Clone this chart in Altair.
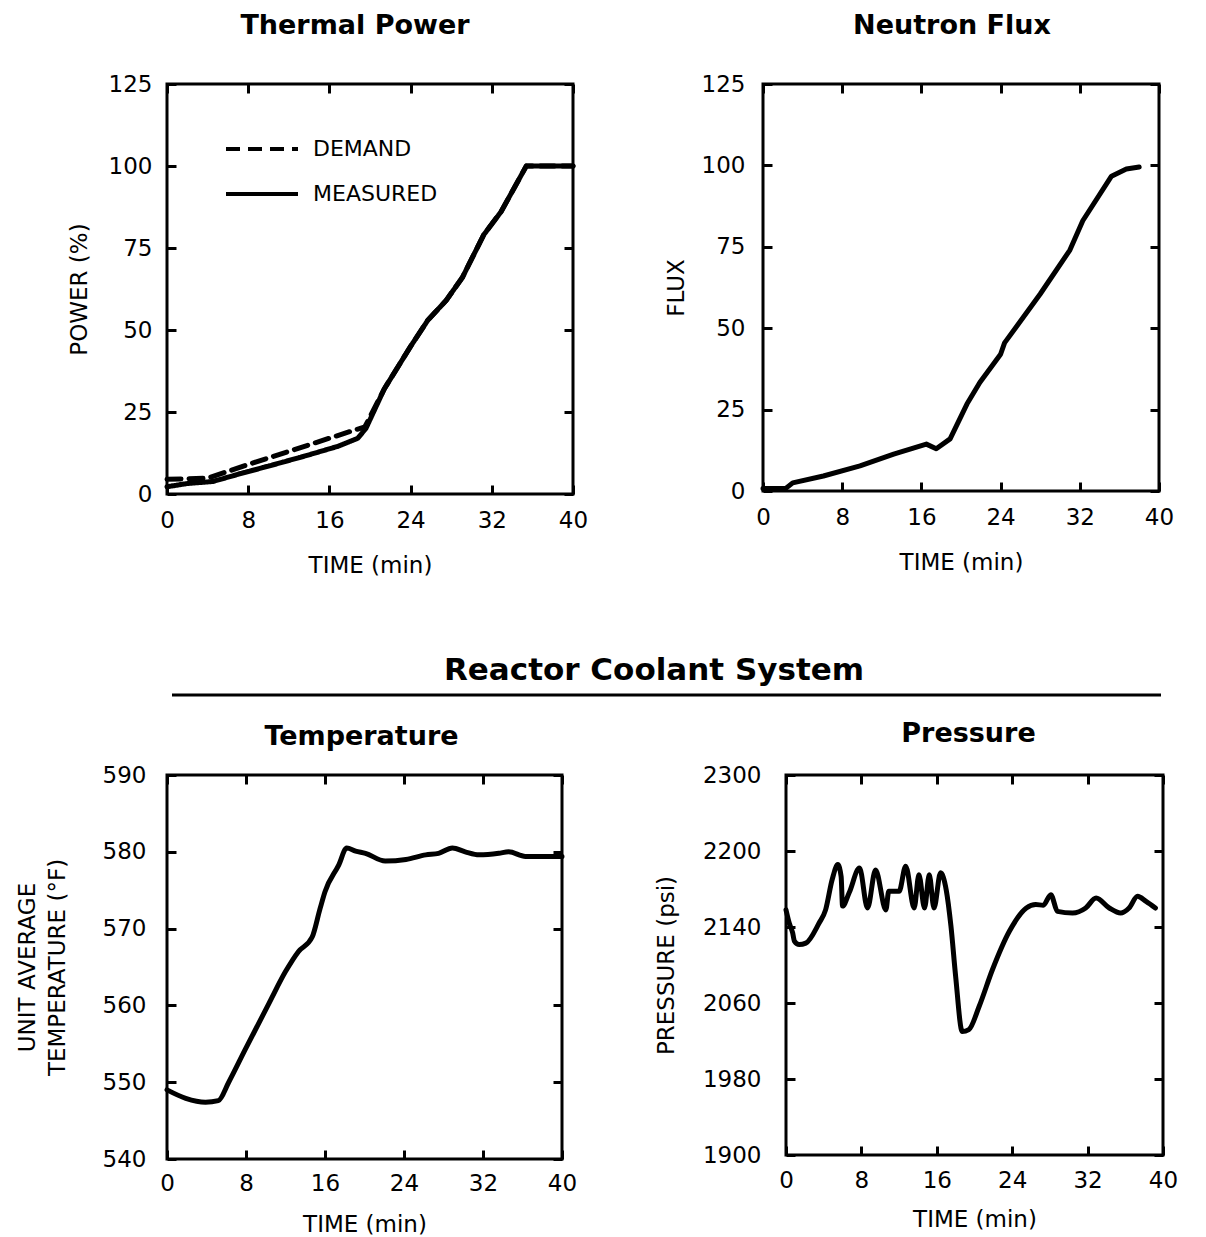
import altair as alt
import pandas as pd

# ---------------- data ----------------
TIME_TICKS = [0, 8, 16, 24, 32, 40]

power_series = ["DEMAND", "MEASURED"]
power_dem_t = [0, 4, 8, 12, 16, 19.5, 21.4, 24, 25.7, 27.5, 29.1, 31.2, 32.9, 35.4, 40]
power_dem_v = [4.5, 4.8, 9, 13, 17, 20.5, 32, 45, 53, 59, 66, 79, 86, 100, 100]
power_meas_t = [0, 2, 4.5, 7, 10, 13.5, 16.8, 18, 18.8, 19.6, 21.4, 24, 25.7, 27.5, 29.1, 31.2, 32.9, 35.4, 40]
power_meas_v = [2.2, 3.2, 3.8, 6, 8.5, 11.5, 14.5, 16, 17, 20, 32, 45, 53, 59, 66, 79, 86, 100, 100]

flux_t = [0, 2.3, 3, 6.1, 9.8, 13.2, 16.5, 17.5, 18.9, 20.6, 21.9, 24, 24.4, 28, 31, 32.3, 35.2, 36.7, 38]
flux_v = [0.8, 0.8, 2.5, 4.6, 7.7, 11.3, 14.4, 13, 16, 26.7, 33.3, 42, 45.5, 60.5, 74, 83, 96.7, 98.9, 99.5]

temp_t = [0, 1.9, 3.9, 5.2, 6.25, 7.9, 10.3, 12.0, 13.3, 14.7, 15.5, 16.0, 17.4, 18.2, 19.1, 20.1,
          22.1, 24.2, 26.2, 27.5, 28.9, 30.2, 31.6, 33.6, 34.6, 36.3, 38.0, 40]
temp_v = [549.0, 547.9, 547.4, 547.6, 550.0, 554.2, 560.2, 564.4, 567.0, 568.9, 572.6, 574.8, 578.3, 580.5,
          580.1, 579.8, 578.8, 579.0, 579.6, 579.8, 580.5, 580.0, 579.6, 579.8, 580.0, 579.4, 579.4, 579.4]

press_t = [0, 0.35, 0.7, 0.9, 1.4, 2.1, 3.5, 4.2, 4.9, 5.5, 5.85, 6.0, 6.7, 7.8, 8.65, 9.5, 10.6, 10.9,
           12.0, 12.7, 13.6, 14.1, 14.7, 15.2, 15.7, 16.4, 17.0, 17.5, 18.0, 18.7, 19.4, 20.5, 21.9,
           23.7, 25.5, 26.5, 27.3, 28.1, 28.8, 30.4, 31.8, 32.9, 34.3, 35.5, 36.4, 37.3, 38.2, 39.2]
press_v = [2158, 2144, 2134, 2125, 2121.5, 2123, 2144, 2158, 2190, 2205.7, 2193, 2162, 2176, 2202, 2160,
           2200, 2158, 2177.6, 2177.6, 2204, 2160, 2195, 2160, 2195, 2160, 2197, 2179, 2141, 2088,
           2030, 2032, 2056.6, 2095, 2135.5, 2160, 2163.6, 2163, 2174, 2156.5, 2154.7, 2160, 2170.5,
           2160, 2154.7, 2160, 2172.3, 2167, 2160]

FONT = "DejaVu Sans"
T = 9  # inward tick length


def axis_common(**kw):
    base = dict(domain=False, grid=False, tickColor="black", tickWidth=3, tickSize=T, offset=-T,
                labelFont=FONT, labelFontSize=23, labelColor="black", labelFlush=False,
                labelOverlap=False, titleFont=FONT, titleFontSize=23, titleFontWeight="normal",
                titleColor="black", format="d")
    base.update(kw)
    return alt.Axis(**base)


def panel(df, title, ytitle, ydomain, yvals, width, height, ylab_pad, ytitle_pad,
          xlab_pad, xtitle_pad, title_y, title_dx, interp="linear", dash=None, ylabel_expr=None,
          extra=()):
    xs = alt.Scale(domain=[0, 40], nice=False, zero=False)
    ys = alt.Scale(domain=ydomain, nice=False, zero=False)
    yk = dict(values=yvals, title=ytitle, labelPadding=ylab_pad, titlePadding=ytitle_pad,
              titleLineHeight=30)
    if ylabel_expr:
        yk["labelExpr"] = ylabel_expr
    enc = dict(
        x=alt.X("t:Q", scale=xs, axis=axis_common(values=TIME_TICKS, title="TIME (min)",
                                                   labelPadding=xlab_pad, titlePadding=xtitle_pad)),
        y=alt.Y("v:Q", scale=ys, axis=axis_common(**yk)),
    )
    if dash is not None:
        enc["strokeDash"] = dash
    line = alt.Chart(df).mark_line(color="black", strokeWidth=5, strokeCap="round",
                                   strokeJoin="round", interpolate=interp).encode(**enc)
    ghost = alt.Chart(df).mark_line(opacity=0).encode(
        x=alt.X("t:Q", scale=xs, axis=axis_common(values=TIME_TICKS, orient="top", labels=False, title=None)),
        y=alt.Y("v:Q", scale=ys, axis=axis_common(values=yvals, orient="right", labels=False, title=None)),
    )
    ttl = alt.Chart(pd.DataFrame({"title": [title]})).mark_text(
        font=FONT, fontSize=27, fontWeight="bold", color="black", align="center",
        baseline="alphabetic").encode(text="title:N", x=alt.value(width / 2 + title_dx),
                                      y=alt.value(title_y))
    return alt.layer(line, ghost, ttl, *extra).resolve_axis(x="independent", y="independent").properties(
        width=width, height=height)


thermal_df = pd.concat([
    pd.DataFrame({"t": power_dem_t, "v": power_dem_v, "series": power_series[0]}),
    pd.DataFrame({"t": power_meas_t, "v": power_meas_v, "series": power_series[1]}),
])
dash = alt.StrokeDash(
    "series:N",
    scale=alt.Scale(domain=power_series, range=[[14, 8], [1, 0]]),
    legend=None,
)

# hand-drawn legend entries (inside the Thermal Power panel)
legend_items = []
for name, dsh, ly in [(power_series[0], [14, 8], 65), (power_series[1], [1, 0], 110)]:
    ldf = pd.DataFrame({"series": [name]})
    legend_items.append(
        alt.Chart(ldf).mark_rule(color="black", strokeWidth=4, strokeDash=dsh).encode(
            x=alt.value(59), x2=alt.value(131), y=alt.value(ly)))
    legend_items.append(
        alt.Chart(ldf).mark_text(font=FONT, fontSize=22, color="black", align="left",
                                 baseline="middle").encode(
            text="series:N", x=alt.value(146), y=alt.value(ly)))

thermal = panel(thermal_df, "Thermal Power", "POWER (%)", [0, 125], [0, 25, 50, 75, 100, 125],
                406, 410, 15, 17, 15, 22, -50, -15, dash=dash, extra=legend_items)
flux = panel(pd.DataFrame({"t": flux_t, "v": flux_v}), "Neutron Flux", "FLUX", [0, 125],
             [0, 25, 50, 75, 100, 125], 396, 407, 18, 13, 15, 22, -50, -9)
temp = panel(pd.DataFrame({"t": temp_t, "v": temp_v}), "Temperature",
             ["UNIT AVERAGE", "TEMPERATURE (°F)"], [540, 590], [540, 550, 560, 570, 580, 590],
             395, 384, 21, 33, 13, 18, -30, -3, interp="monotone")
press = panel(pd.DataFrame({"t": press_t, "v": press_v}), "Pressure", "PRESSURE (psi)",
              [1900, 2300], [1900, 1980, 2060, 2140, 2220, 2300], 377, 380, 25, 24, 14, 16, -33, -6,
              interp="monotone", ylabel_expr="datum.value == 2220 ? '2200' : datum.label")

hdr_df = pd.DataFrame({"label": ["Reactor Coolant System"]})
hdr_text = alt.Chart(hdr_df).mark_text(font=FONT, fontSize=31, fontWeight="bold", color="black",
                                       align="center", baseline="middle").encode(
    text="label:N", x=alt.value(487), y=alt.value(90))
hdr_rule = alt.Chart(hdr_df).mark_rule(color="black", strokeWidth=3).encode(
    x=alt.value(5), x2=alt.value(994), y=alt.value(114))
header = alt.layer(hdr_text, hdr_rule).properties(
    width=1000, height=135, view=alt.ViewBackground(stroke="transparent"))

top = alt.hconcat(thermal, flux, spacing=73)
bottom = alt.hconcat(temp, press, spacing=74)

chart = alt.vconcat(top, header, bottom, spacing=0).properties(
    padding={"left": 6, "top": 2, "right": 5, "bottom": 5},
    background="white",
).configure_view(stroke="black", strokeWidth=3)

chart.save("out.html", embed_options={"renderer": "svg", "actions": False})
